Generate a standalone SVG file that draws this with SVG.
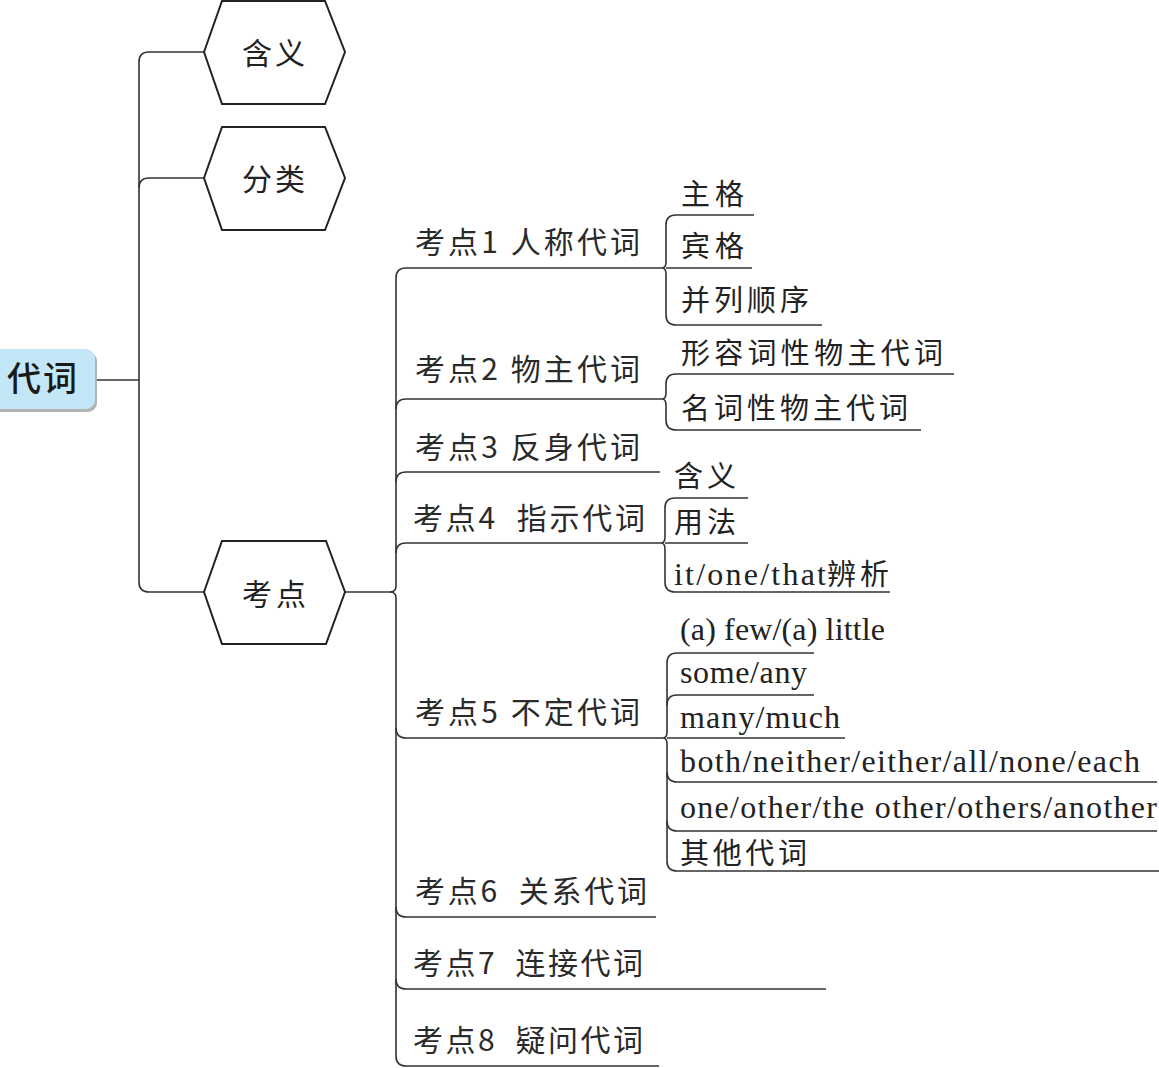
<svg xmlns="http://www.w3.org/2000/svg" width="1159" height="1068" viewBox="0 0 1159 1068">
<style>
.ln{fill:none;stroke:#333;stroke-width:1.6}
.hex{fill:#fff;stroke:#222;stroke-width:2}
.ht{font-family:"Noto Sans CJK SC",sans-serif;font-size:30px;fill:#222}
.bt{font-family:"Noto Sans CJK SC",sans-serif;font-size:30px;fill:#2a2a2a}
.lc{font-family:"Noto Sans CJK SC",sans-serif;font-size:29px;fill:#222}
.le{font-family:"Liberation Serif",serif;font-size:32px;fill:#222}
</style>
<rect width="1159" height="1068" fill="#fff"/>
<g id="connectors">
<path class="ln" d="M95 380H139"/>
<path class="ln" d="M204 52H149Q139 52 139 62V582Q139 592 149 592H204"/>
<path class="ln" d="M139 188Q139 178 149 178H204"/>
<path class="ln" d="M345 592H390"/>
<path class="ln" d="M662 268H406Q396 268 396 278V586Q396 592 390 592"/>
<path class="ln" d="M390 592Q396 592 396 598V1056Q396 1066 406 1066H659"/>
<path class="ln" d="M396 409Q396 399 406 399H662"/>
<path class="ln" d="M396 482Q396 472 406 472H660"/>
<path class="ln" d="M396 553Q396 543 406 543H661"/>
<path class="ln" d="M396 728Q396 738 406 738H663"/>
<path class="ln" d="M396 907Q396 917 406 917H656"/>
<path class="ln" d="M396 979Q396 989 406 989H826"/>
<path class="ln" d="M754 215H676Q666 215 666 225V262Q666 268 662 268Q666 268 666 274V315Q666 325 676 325H822"/>
<path class="ln" d="M666 268H752"/>
<path class="ln" d="M954 374H676Q666 374 666 384V393Q666 399 662 399Q666 399 666 405V420Q666 430 676 430H921"/>
<path class="ln" d="M748 498H675Q665 498 665 508V537Q665 543 661 543Q665 543 665 549V582Q665 592 675 592H890"/>
<path class="ln" d="M665 543H748"/>
<path class="ln" d="M814 653H677Q667 653 667 663V732Q667 738 663 738Q667 738 667 744V861Q667 871 677 871H1159"/>
<path class="ln" d="M667 705Q667 695 677 695H814"/>
<path class="ln" d="M667 738H845"/>
<path class="ln" d="M667 772Q667 782 677 782H1157"/>
<path class="ln" d="M667 821Q667 831 677 831H1157"/>
</g>
<g id="root">
<rect x="-8" y="352" width="105" height="60" rx="9" fill="#b3b3b3"/>
<rect x="-10" y="349" width="105" height="60" rx="9" fill="#c4e7f7"/>
<text x="7" y="391" font-family="'Noto Sans CJK SC',sans-serif" font-size="34" font-weight="500" fill="#1a1a1a" textLength="70">代词</text>
</g>
<g id="n-hanyi">
<polygon class="hex" points="204,52 222,1 325,1 345,52 325,104 222,104"/>
<text class="ht" x="242" y="64" textLength="63">含义</text>
</g>
<g id="n-fenlei">
<polygon class="hex" points="204,178 222,127 325,127 345,178 325,230 222,230"/>
<text class="ht" x="242" y="190" textLength="63">分类</text>
</g>
<g id="n-kaodian">
<polygon class="hex" points="204,592 222,541 326,541 345,592 326,644 222,644"/>
<text class="ht" x="242" y="605" textLength="64">考点</text>
</g>
<g id="k1"><text class="bt" x="415" y="253" textLength="225">考点1 人称代词</text></g>
<g id="k2"><text class="bt" x="415" y="380" textLength="225">考点2 物主代词</text></g>
<g id="k3"><text class="bt" x="415" y="458" textLength="225">考点3 反身代词</text></g>
<g id="k4"><text class="bt" x="413" y="529" textLength="232" xml:space="preserve">考点4  指示代词</text></g>
<g id="k5"><text class="bt" x="415" y="723" textLength="225">考点5 不定代词</text></g>
<g id="k6"><text class="bt" x="415" y="902" textLength="232" xml:space="preserve">考点6  关系代词</text></g>
<g id="k7"><text class="bt" x="413" y="974" textLength="230" xml:space="preserve">考点7  连接代词</text></g>
<g id="k8"><text class="bt" x="413" y="1051" textLength="230" xml:space="preserve">考点8  疑问代词</text></g>
<g id="l1a"><text class="lc" x="681" y="205" textLength="63">主格</text></g>
<g id="l1b"><text class="lc" x="681" y="257" textLength="63">宾格</text></g>
<g id="l1c"><text class="lc" x="681" y="311" textLength="128">并列顺序</text></g>
<g id="l2a"><text class="lc" x="681" y="364" textLength="262">形容词性物主代词</text></g>
<g id="l2b"><text class="lc" x="681" y="419" textLength="227">名词性物主代词</text></g>
<g id="l4a"><text class="lc" x="674" y="487" textLength="62">含义</text></g>
<g id="l4b"><text class="lc" x="674" y="533" textLength="62">用法</text></g>
<g id="l4c"><text x="674" y="585"><tspan class="le" textLength="152">it/one/that</tspan><tspan class="lc" x="827" textLength="62">辨析</tspan></text></g>
<g id="l5a"><text class="le" x="680" y="640" textLength="205">(a) few/(a) little</text></g>
<g id="l5b"><text class="le" x="680" y="683" textLength="127">some/any</text></g>
<g id="l5c"><text class="le" x="680" y="728" textLength="160">many/much</text></g>
<g id="l5d"><text class="le" x="680" y="772" textLength="460">both/neither/either/all/none/each</text></g>
<g id="l5e"><text class="le" x="680" y="818" textLength="477">one/other/the other/others/another</text></g>
<g id="l5f"><text class="lc" x="680" y="864" textLength="127">其他代词</text></g>
</svg>
